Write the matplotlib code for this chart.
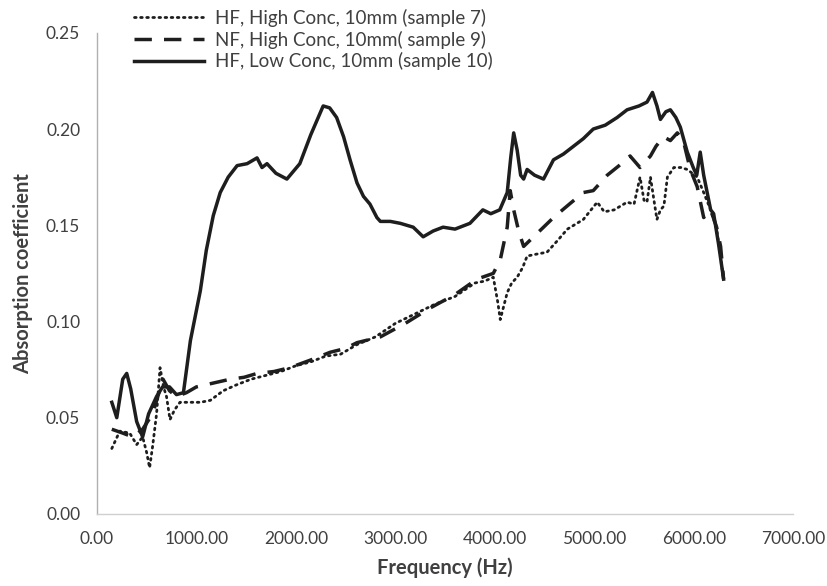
import matplotlib
matplotlib.use('Agg')
import matplotlib.pyplot as plt

plt.rcParams['font.family'] = ['Lato', 'DejaVu Sans']

# HF, High Conc, 10mm (sample 7) -- dotted
freq_s7 = [150, 230, 330, 400, 460, 500, 530, 560, 600, 635, 670, 700, 735, 780, 835,
           935, 1040, 1140, 1270, 1400, 1550, 1700, 1850, 2000, 2150, 2300, 2450, 2615,
           2800, 3000, 3200, 3400, 3600, 3800, 3900, 3985, 4030, 4055, 4090, 4125, 4170,
           4225, 4280, 4325, 4420, 4525, 4630, 4730, 4890, 5030, 5100, 5200, 5330, 5400,
           5460, 5500, 5530, 5565, 5600, 5630, 5665, 5700, 5735, 5800, 5870, 5935, 6035,
           6100, 6170, 6230, 6300]
abs_s7 = [0.034, 0.043, 0.042, 0.036, 0.040, 0.032, 0.024, 0.035, 0.052, 0.076, 0.066,
          0.061, 0.049, 0.054, 0.058, 0.058, 0.058, 0.059, 0.064, 0.067, 0.070, 0.072,
          0.074, 0.077, 0.079, 0.082, 0.083, 0.088, 0.092, 0.099, 0.104, 0.109, 0.113,
          0.120, 0.121, 0.123, 0.110, 0.101, 0.108, 0.115, 0.120, 0.123, 0.128, 0.134,
          0.135, 0.136, 0.142, 0.148, 0.153, 0.162, 0.157, 0.158, 0.162, 0.161, 0.175,
          0.163, 0.162, 0.175, 0.163, 0.153, 0.158, 0.160, 0.175, 0.180, 0.180, 0.179,
          0.175, 0.167, 0.158, 0.148, 0.122]

# NF, High Conc, 10mm (sample 9) -- dashed
freq_s9 = [150, 260, 360, 460, 560, 665, 730, 800, 900, 1000, 1170, 1340, 1480, 1610,
           1780, 1940, 2150, 2345, 2500, 2615, 2850, 3100, 3350, 3600, 3820, 3985, 4055,
           4125, 4155, 4190, 4240, 4290, 4390, 4490, 4590, 4750, 4890, 4990, 5130, 5250,
           5360, 5460, 5565, 5620, 5695, 5765, 5835, 5895, 5965, 6035, 6100, 6170, 6230,
           6270, 6300]
abs_s9 = [0.044, 0.042, 0.040, 0.044, 0.052, 0.070, 0.064, 0.061, 0.063, 0.066, 0.068,
          0.070, 0.071, 0.073, 0.074, 0.076, 0.080, 0.084, 0.086, 0.089, 0.092, 0.099,
          0.107, 0.114, 0.122, 0.125, 0.132, 0.149, 0.168, 0.158, 0.147, 0.139, 0.144,
          0.149, 0.154, 0.161, 0.167, 0.168, 0.176, 0.181, 0.186, 0.180, 0.186, 0.191,
          0.196, 0.194, 0.198, 0.194, 0.179, 0.170, 0.154, 0.158, 0.149, 0.139, 0.122]

# HF, Low Conc, 10mm (sample 10) -- solid
freq_s10 = [150, 200, 260, 300, 340, 400, 460, 520, 600, 660, 730, 800, 870, 940, 1040,
            1100, 1170, 1240, 1320, 1410, 1510, 1610, 1660, 1710, 1800, 1910, 2040, 2150,
            2275, 2340, 2410, 2480, 2545, 2615, 2680, 2745, 2815, 2850, 2950, 3050, 3180,
            3280, 3380, 3480, 3600, 3750, 3880, 3960, 4050, 4125, 4160, 4190, 4225, 4260,
            4290, 4325, 4400, 4490, 4590, 4690, 4790, 4890, 4990, 5110, 5230, 5330, 5450,
            5530, 5585, 5630, 5665, 5720, 5765, 5820, 5865, 5935, 5995, 6030, 6065, 6100,
            6135, 6170, 6200, 6250, 6300]
abs_s10 = [0.058, 0.050, 0.070, 0.073, 0.065, 0.048, 0.040, 0.052, 0.061, 0.066, 0.066,
           0.062, 0.063, 0.090, 0.116, 0.137, 0.155, 0.167, 0.175, 0.181, 0.182, 0.185,
           0.180, 0.182, 0.177, 0.174, 0.182, 0.197, 0.212, 0.211, 0.206, 0.196, 0.184,
           0.172, 0.165, 0.161, 0.154, 0.152, 0.152, 0.151, 0.149, 0.144, 0.147, 0.149,
           0.148, 0.151, 0.158, 0.156, 0.158, 0.167, 0.185, 0.198, 0.189, 0.176, 0.174,
           0.179, 0.176, 0.174, 0.184, 0.187, 0.191, 0.195, 0.200, 0.202, 0.206, 0.210,
           0.212, 0.214, 0.219, 0.212, 0.205, 0.209, 0.210, 0.206, 0.201, 0.188, 0.180,
           0.176, 0.188, 0.176, 0.167, 0.158, 0.156, 0.140, 0.122]

labels = ['HF, High Conc, 10mm (sample 7)',
          'NF, High Conc, 10mm( sample 9)',
          'HF, Low Conc, 10mm (sample 10)']


def main():
    fig = plt.figure(figsize=(8.28, 5.86), dpi=100)
    ax = fig.add_axes([0.117, 0.123, 0.841, 0.821])

    ink = '#1e1e1e'
    ax.plot(freq_s7, abs_s7, color=ink, linewidth=2.0, linestyle=(0, (0.6, 1.6)),
            dash_capstyle='round', label=labels[0])
    ax.plot(freq_s9, abs_s9, color=ink, linewidth=2.5, linestyle=(0, (5, 3.5)),
            label=labels[1])
    ax.plot(freq_s10, abs_s10, color=ink, linewidth=2.5, linestyle='-',
            label=labels[2])

    ax.set_xlim(0, 7000)
    ax.set_ylim(0, 0.25)
    ax.set_xticks(range(0, 7001, 1000))
    ax.set_xticklabels(['%.2f' % v for v in range(0, 7001, 1000)])
    ax.set_yticks([0, 0.05, 0.10, 0.15, 0.20, 0.25])
    ax.set_yticklabels(['%.2f' % v for v in [0, 0.05, 0.10, 0.15, 0.20, 0.25]])
    ax.tick_params(length=0, labelsize=12.5, colors='#404040', pad=12)

    ax.spines['top'].set_visible(False)
    ax.spines['right'].set_visible(False)
    ax.spines['left'].set_color('#b0b0b0')
    ax.spines['bottom'].set_color('#d0d0d0')
    ax.spines['left'].set_linewidth(1.0)
    ax.spines['bottom'].set_linewidth(1.0)

    ax.set_xlabel('Frequency (Hz)', fontsize=14.5, fontweight='bold', color='#404040', labelpad=8)
    ax.set_ylabel('Absorption coefficient', fontsize=14.5, fontweight='bold', color='#404040', labelpad=9)

    leg = fig.legend(loc='upper left', bbox_to_anchor=(0.142, 1.014), frameon=False,
                     fontsize=13.5, handlelength=3.7, handletextpad=0.6, labelspacing=0.2)
    for t in leg.get_texts():
        t.set_color('#404040')

    fig.savefig('out.png', dpi=100)


if __name__ == '__main__':
    main()
